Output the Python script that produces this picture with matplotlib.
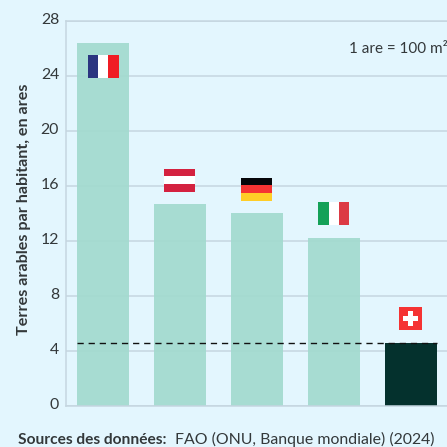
import matplotlib
matplotlib.use("Agg")
import matplotlib.pyplot as plt
from matplotlib.patches import Rectangle
from matplotlib.transforms import ScaledTranslation

countries = ["France", "Autriche", "Allemagne", "Italie", "Suisse"]
values = [26.4, 14.65, 14.0, 12.2, 4.55]
yticks = [0, 4, 8, 12, 16, 20, 24, 28]

BG = "#e3f6fe"
GRID = "#c5d6e0"
TEXT = "#33383a"
W = H = 447

plt.rcParams["font.family"] = ["Lato", "DejaVu Sans"]
fig = plt.figure(figsize=(W / 100, H / 100), dpi=100, facecolor=BG)
L, R, T, B = 65.5, 447, 20.5, 405.5
ax = fig.add_axes([L / W, 1 - B / H, (R - L) / W, (B - T) / H], facecolor=BG)

step = 76.9
center0 = 103.0
ax.set_xlim((L - center0) / step, (R - center0) / step)
ax.set_ylim(0, 28)
px_y = 28 / (B - T)
px_x = 1 / step

ax.set_yticks(yticks)
ax.yaxis.grid(True, color=GRID, lw=1.1, zorder=1)
ax.set_axisbelow(True)
ax.set_xticks([])
ax.spines["right"].set_visible(False)
for s in ["top", "bottom", "left"]:
    ax.spines[s].set_color(GRID)
    ax.spines[s].set_linewidth(1.1)
ax.tick_params(axis="y", length=0, pad=4.6, labelsize=11.4, labelcolor=TEXT)
shift = ScaledTranslation(0, 0.7 / 100, fig.dpi_scale_trans)
for t in ax.get_yticklabels():
    t.set_verticalalignment("center")
    t.set_transform(t.get_transform() + shift)

colors = ["#a1dace"] * 4 + ["#04312d"]
bars = ax.bar(range(5), values, width=52 / step, color=colors, alpha=0.9, zorder=2)
bars[-1].set_alpha(1)

ax.plot([-26 / step, 4 + 26 / step], [values[-1]] * 2, color="#111111", lw=1,
        dashes=(4.5, 3.5), zorder=4)


def stripes(i, y_center, cols, vertical=False, w=31, h=23):
    x0 = i - w * px_x / 2
    y0 = y_center - h * px_y / 2
    n = len(cols)
    for k, c in enumerate(cols):
        if vertical:
            r = Rectangle((x0 + k * w * px_x / n, y0), w * px_x / n, h * px_y, fc=c, ec="none", zorder=5)
        else:
            r = Rectangle((x0, y0 + h * px_y * (n - 1 - k) / n), w * px_x, h * px_y / n, fc=c, ec="none", zorder=5)
        ax.add_patch(r)


off = 24 * px_y
stripes(0, values[0] - off, ["#2b3580", "#ffffff", "#f01c24"], vertical=True)
stripes(1, values[1] + off, ["#d4213f", "#ffffff", "#d4213f"])
stripes(2, values[2] + off, ["#05060a", "#f53333", "#ffcd27"])
stripes(3, values[3] + off, ["#14a158", "#ffffff", "#dc3a44"], vertical=True)

# Swiss flag
cy = values[4] + off
ax.add_patch(Rectangle((4 - 11.5 * px_x, cy - 11.5 * px_y), 23 * px_x, 23 * px_y, fc="#f53333", ec="none", zorder=5))
ax.add_patch(Rectangle((4 - 7.5 * px_x, cy - 2.5 * px_y), 15 * px_x, 5 * px_y, fc="white", ec="none", zorder=6))
ax.add_patch(Rectangle((4 - 2.5 * px_x, cy - 7.5 * px_y), 5 * px_x, 15 * px_y, fc="white", ec="none", zorder=6))

fig.text(24.5 / W, 1 - 209 / H, "Terres arables par habitant, en ares", rotation=90,
         ha="center", va="center", fontsize=11.6, fontweight="bold", color=TEXT)
fig.text(349 / W, 1 - 48.7 / H, "1 are = 100 m²", ha="left", va="center", fontsize=11, color=TEXT)
fig.text(18 / W, 1 - 439.8 / H, "Sources des données:", ha="left", va="center", fontsize=11.2,
         fontweight="bold", color=TEXT)
fig.text(175 / W, 1 - 439.8 / H, "FAO (ONU, Banque mondiale) (2024)", ha="left", va="center",
         fontsize=11.4, color=TEXT)

fig.savefig("out.png", dpi=100, facecolor=BG)
